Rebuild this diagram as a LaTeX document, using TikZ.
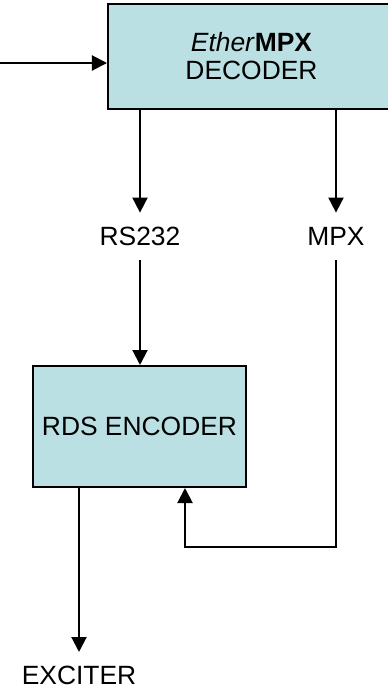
\documentclass[tikz,border=0pt]{standalone}
\definecolor{boxcyan}{RGB}{187,224,227}
\usepackage{fontspec}
\setmainfont{Liberation Sans}
\usepackage{tikz}
\usetikzlibrary{shapes,arrows.meta,positioning,calc}

\begin{document}
\begin{tikzpicture}[x=0.5pt,y=-0.5pt,
    font=\fontsize{13.2}{14}\selectfont,
    blockbox/.style={draw=black,fill=boxcyan,line width=1pt,align=center,inner sep=0pt},
    sigtext/.style={inner sep=0pt,minimum height=23.5pt},
    wire/.style={line width=1pt,-{Triangle[length=7.5pt,width=7.5pt]}}]
    \useasboundingbox (0,0) rectangle (387,693);
    % boxes
    \node[blockbox,minimum width=143.5pt,minimum height=52.5pt] (dec) at (251.5,56)
        {\textit{Ether}\textbf{MPX}\\DECODER};
    \node[blockbox,minimum width=106.5pt,minimum height=60.5pt] (enc) at (139.5,426.5)
        {RDS ENCODER};
    % signal names
    \node[sigtext] (rs) at (140,236.5) {RS232};
    \node[sigtext] (mpx) at (336,236.5) {MPX};
    \node[sigtext,anchor=north] (exc) at (79,652) {EXCITER};
    \coordinate (in) at (0,63);
    \coordinate (fb) at (185,547);
    % connections
    \draw[wire] (in) -- (in -| dec.west);
    \draw[wire] (rs |- dec.south) -- (rs.north);
    \draw[wire] (mpx |- dec.south) -- (mpx.north);
    \draw[wire] (rs.south) -- (rs |- enc.north);
    \draw[wire] (mpx.south) |- (fb) -- (fb |- enc.south);
    \draw[wire] (exc |- enc.south) -- (exc.north);
\end{tikzpicture}
\end{document}
